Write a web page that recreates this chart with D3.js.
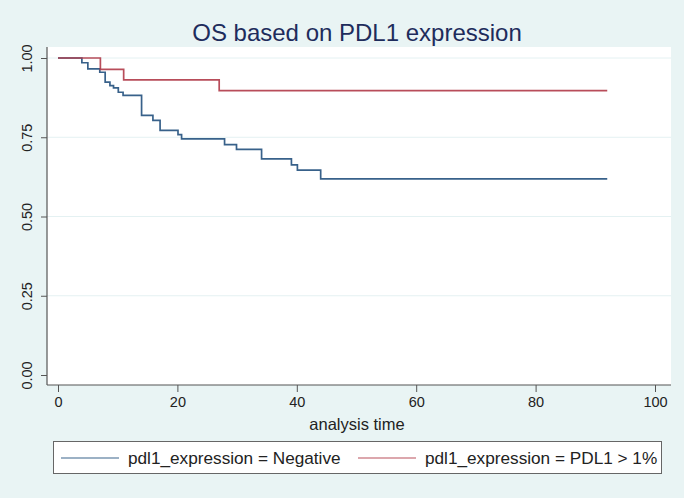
<!DOCTYPE html>
<meta charset="utf-8">
<html>
<head>
  <title>OS based on PDL1 expression</title>
  <script src="https://d3js.org/d3.v7.min.js"></script>
  <style>
    body { margin: 0; background: #e9f4f4; }
    text { font-family: "Liberation Sans", Arial, sans-serif; }
  </style>
</head>
<body>
<script>

// Kaplan-Meier step points
var negTime = [0, 4, 5, 7, 7.9, 8.7, 9.3, 10.1, 10.9, 14, 15.9, 17.1, 20.1, 20.7, 27.9, 29.9, 34.1, 39.1, 40.1, 44, 92];
var negSurv = [1, .985, .966, .955, .924, .913, .906, .892, .882, .819, .803, .772, .758, .745, .727, .712, .682, .663, .646, .619, .619];

var posTime = [0, 7.1, 11, 27, 92];
var posSurv = [1, .964, .931, .897, .897];

var xTicks = [0, 20, 40, 60, 80, 100];
var yTicks = [0, .25, .5, .75, 1];

var legendLabels = ["pdl1_expression = Negative", "pdl1_expression = PDL1 > 1%"];
var colors = ["#22507d", "#b03a48"];

var width = 684, height = 498;

var svg = d3.select("body").append("svg")
    .attr("width", width)
    .attr("height", height);

svg.append("rect")
    .attr("width", width).attr("height", height)
    .style("fill", "#e9f4f4");

// plot region
var plot = {left: 47, top: 47, right: 671, bottom: 385};

svg.append("rect")
    .attr("x", plot.left).attr("y", plot.top)
    .attr("width", plot.right - plot.left)
    .attr("height", plot.bottom - plot.top)
    .style("fill", "#ffffff");

var x = d3.scaleLinear().domain([0, 100]).range([58, 655]);
var y = d3.scaleLinear().domain([0, 1]).range([375, 58]);

// grid lines
svg.append("g")
  .selectAll("line")
    .data(yTicks.filter(function(d){ return d > 0; }))
  .enter().append("line")
    .attr("x1", plot.left).attr("x2", plot.right)
    .attr("y1", function(d){ return y(d); })
    .attr("y2", function(d){ return y(d); })
    .style("stroke", "#e4f1f2")
    .style("stroke-width", 1);

// axes
var xAxis = d3.axisBottom(x).tickValues(xTicks).tickSize(7).tickPadding(5);
var gx = svg.append("g")
    .attr("transform", "translate(0," + plot.bottom + ")")
    .call(xAxis);
gx.select(".domain").remove();
gx.selectAll("line").style("stroke", "#555");
gx.selectAll("text").style("font-size", "14.5px").style("fill", "#222");

var yAxis = d3.axisLeft(y).tickValues(yTicks).tickSize(6).tickPadding(7)
    .tickFormat(d3.format(".2f"));
var gy = svg.append("g")
    .attr("transform", "translate(" + plot.left + ",0)")
    .call(yAxis);
gy.select(".domain").remove();
gy.selectAll("line").style("stroke", "#555");
gy.selectAll("text")
    .style("font-size", "14.5px").style("fill", "#222")
    .attr("text-anchor", "middle")
    .attr("x", null)
    .attr("transform", "translate(-20,0) rotate(-90)")
    .attr("y", 0)
    .attr("dy", "0.35em");

// axis lines
svg.append("line")
    .attr("x1", plot.left).attr("x2", plot.left)
    .attr("y1", plot.top).attr("y2", plot.bottom)
    .style("stroke", "#555").style("stroke-width", 1.2);
svg.append("line")
    .attr("x1", plot.left).attr("x2", plot.right)
    .attr("y1", plot.bottom).attr("y2", plot.bottom)
    .style("stroke", "#555").style("stroke-width", 1.2);

// curves
var line = d3.line()
    .x(function(d){ return x(d[0]); })
    .y(function(d){ return y(d[1]); })
    .curve(d3.curveStepAfter);

var series = [d3.zip(negTime, negSurv), d3.zip(posTime, posSurv)];

svg.append("g")
  .selectAll("path")
    .data(series)
  .enter().append("path")
    .attr("d", line)
    .style("fill", "none")
    .style("stroke", function(d, i){ return colors[i]; })
    .style("stroke-width", 1.7)
    .style("stroke-opacity", 0.9);

// title
svg.append("text")
    .attr("x", 357).attr("y", 41)
    .attr("text-anchor", "middle")
    .style("font-size", "24px")
    .style("fill", "#1e2c5c")
    .text("OS based on PDL1 expression");

svg.append("text")
    .attr("x", 357).attr("y", 430)
    .attr("text-anchor", "middle")
    .style("font-size", "16.5px")
    .style("fill", "#222")
    .text("analysis time");

// legend
var lg = svg.append("g");
lg.append("rect")
    .attr("x", 53.5).attr("y", 441.5)
    .attr("width", 608).attr("height", 32)
    .style("fill", "#fff")
    .style("stroke", "#666")
    .style("stroke-width", 1);

var items = lg.selectAll("g.item")
    .data(legendLabels)
  .enter().append("g")
    .attr("class", "item")
    .attr("transform", function(d, i){ return "translate(" + (i === 0 ? 61 : 358) + ",458)"; });

items.append("line")
    .attr("x1", 0).attr("x2", 58)
    .style("stroke", function(d, i){ return colors[i]; })
    .style("stroke-width", 1.6)
    .style("stroke-opacity", 0.6);

items.append("text")
    .attr("x", 67).attr("dy", "0.35em")
    .style("font-size", "17.2px")
    .style("fill", "#222")
    .text(function(d){ return d; });

</script>
</body>
</html>
